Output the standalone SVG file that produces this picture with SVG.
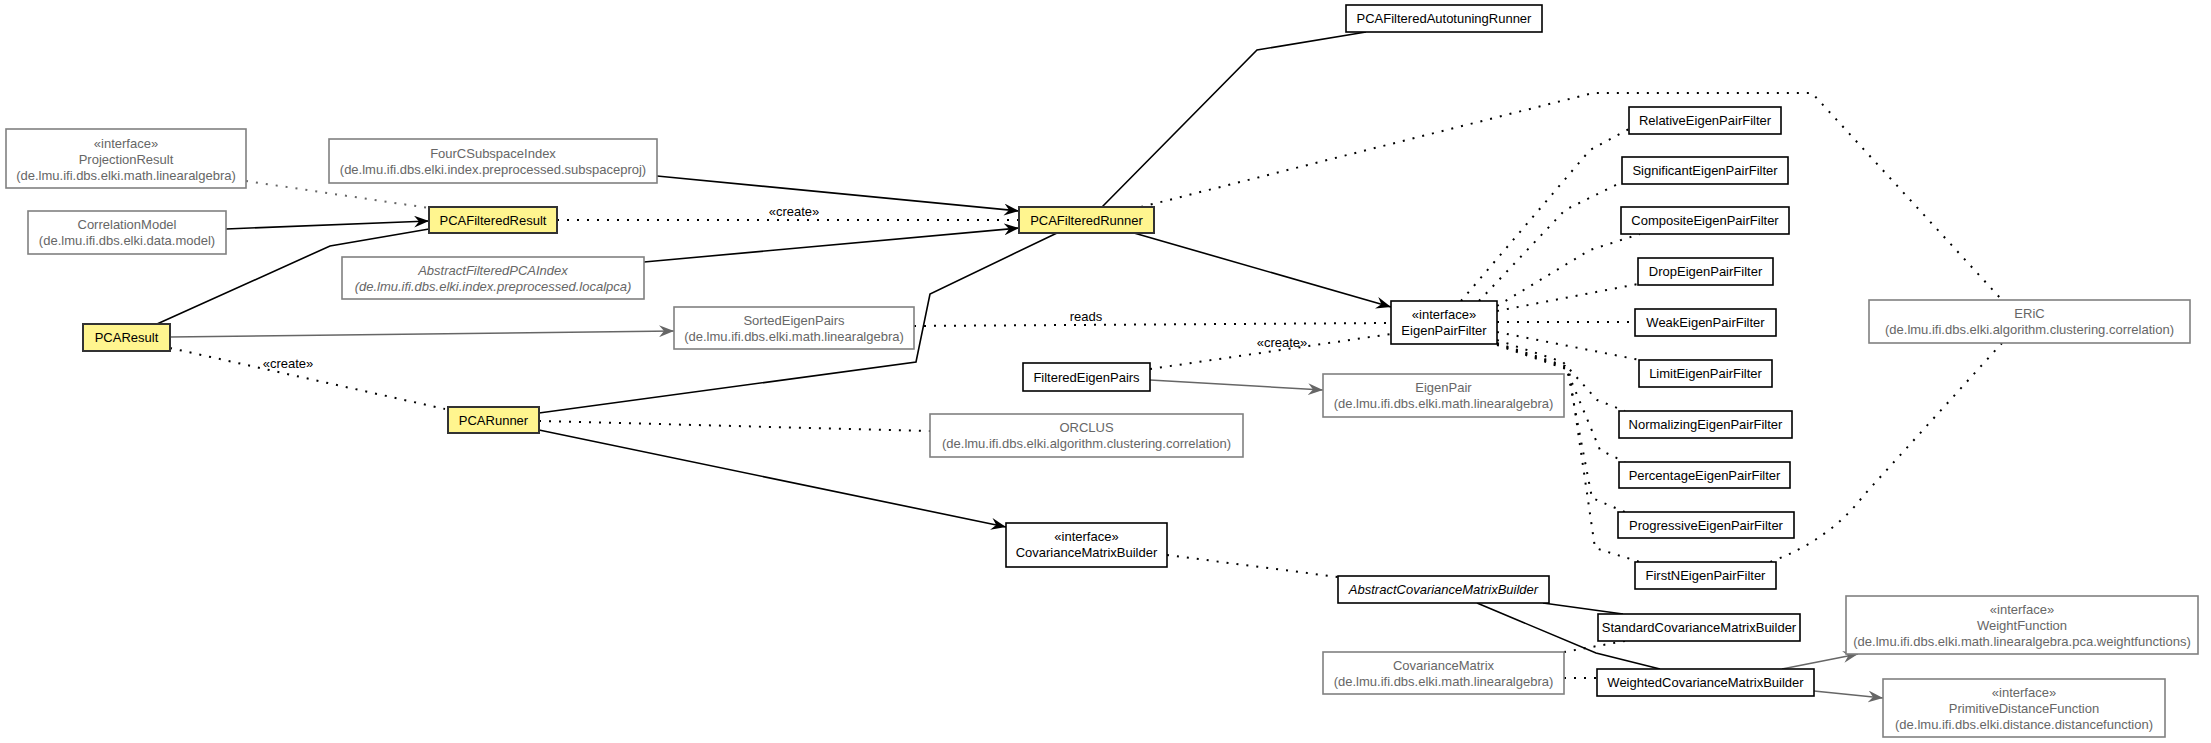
<svg xmlns="http://www.w3.org/2000/svg" width="2211" height="743" viewBox="0 0 2211 743">
<style>
text{font-family:"Liberation Sans",Arial,sans-serif;font-size:13px;text-anchor:middle}
.y rect{fill:#fff58f;stroke:#333;stroke-width:2}
.b rect{fill:#fff;stroke:#000;stroke-width:1.6}
.g rect{fill:#fff;stroke:#808080;stroke-width:1.6}
.g text{fill:#666}
.i{font-style:italic}
.s{fill:none;stroke:#000;stroke-width:1.6}
.sg{fill:none;stroke:#666;stroke-width:1.4}
.d{fill:none;stroke:#000;stroke-width:2;stroke-dasharray:2 8}
.dg{fill:none;stroke:#666;stroke-width:2;stroke-dasharray:2 8}
.lbl{fill:#000}
</style>
<defs>
<marker id="a" markerUnits="userSpaceOnUse" markerWidth="16" markerHeight="12" refX="15" refY="6" orient="auto"><path d="M0,0 L15,6 L0,12 L5,6 Z" fill="#000"/></marker>
<marker id="ag" markerUnits="userSpaceOnUse" markerWidth="16" markerHeight="12" refX="15" refY="6" orient="auto"><path d="M0,0 L15,6 L0,12 L5,6 Z" fill="#666"/></marker>
</defs>
<rect width="2211" height="743" fill="#fff"/>
<g id="connectors">
<path class="dg" d="M246,181 L429,208"/>
<path class="s" d="M226,229 L429,221" marker-end="url(#a)"/>
<path class="s" d="M157,324 L330,246 L429,229"/>
<path class="s" d="M657,176 L1019,211" marker-end="url(#a)"/>
<path class="d" d="M557,220 L1019,220"/>
<text class="lbl" x="794" y="216">«create»</text>
<path class="s" d="M644,262 L1019,228" marker-end="url(#a)"/>
<path class="s" d="M539,413 L916,362 L930,294 L1057,233"/>
<path class="sg" d="M170,337 L674,331" marker-end="url(#ag)"/>
<path class="d" d="M170,348 L445,409"/>
<text class="lbl" x="288" y="368">«create»</text>
<path class="d" d="M539,421 L930,431"/>
<path class="s" d="M539,430 L1006,527" marker-end="url(#a)"/>
<path class="s" d="M1134,233 L1391,307" marker-end="url(#a)"/>
<path class="d" d="M914,326 L1391,323"/>
<text class="lbl" x="1086" y="321">reads</text>
<path class="d" d="M1150,369 L1391,334"/>
<text class="lbl" x="1282" y="347">«create»</text>
<path class="sg" d="M1150,380 L1323,390" marker-end="url(#ag)"/>
<path class="s" d="M1102,207 L1257,50 L1366,32"/>
<path class="d" d="M1141,207 L1593,93 L1812,93 L2002,300"/>
<path class="d" d="M2002,343 L1864,495 Q1830,540 1770,562"/>
<path class="d" d="M1461,301 L1590,150 L1629,129"/>
<path class="d" d="M1479,301 L1565,210 L1622,182"/>
<path class="d" d="M1497,306 L1590,250 L1640,234"/>
<path class="d" d="M1497,311 L1638,284"/>
<path class="d" d="M1497,322 L1635,322"/>
<path class="d" d="M1497,332 L1640,360"/>
<path class="d" d="M1497,340 L1563,362 L1597,400 L1625,411"/>
<path class="d" d="M1497,343 L1565,366 L1600,450 L1625,462"/>
<path class="d" d="M1497,344 L1567,368 L1592,498 L1625,512"/>
<path class="d" d="M1497,345 L1569,370 L1595,548 L1640,562"/>
<path class="d" d="M1167,555 L1338,577"/>
<path class="s" d="M1543,603 L1623,614"/>
<path class="s" d="M1477,603 L1596,653 L1660,669"/>
<path class="d" d="M1564,678 L1597,678"/>
<path class="d" d="M1564,652 L1625,641"/>
<path class="sg" d="M1782,669 L1858,654" marker-end="url(#ag)"/>
<path class="sg" d="M1814,691 L1883,698" marker-end="url(#ag)"/>
</g>
<g id="PCAFilteredResult" class="y"><rect x="429" y="207" width="128" height="26"/><text x="493" y="224.5">PCAFilteredResult</text></g>
<g id="PCAFilteredRunner" class="y"><rect x="1019" y="207" width="135" height="26"/><text x="1086.5" y="224.5">PCAFilteredRunner</text></g>
<g id="PCAResult" class="y"><rect x="83" y="324" width="87" height="27"/><text x="126.5" y="342">PCAResult</text></g>
<g id="PCARunner" class="y"><rect x="448" y="407" width="91" height="26"/><text x="493.5" y="424.5">PCARunner</text></g>
<g id="PCAFilteredAutotuningRunner" class="b"><rect x="1346" y="5" width="196" height="27"/><text x="1444" y="23">PCAFilteredAutotuningRunner</text></g>
<g id="RelativeEigenPairFilter" class="b"><rect x="1629" y="107" width="152" height="27"/><text x="1705" y="125">RelativeEigenPairFilter</text></g>
<g id="SignificantEigenPairFilter" class="b"><rect x="1622" y="157" width="166" height="27"/><text x="1705" y="175">SignificantEigenPairFilter</text></g>
<g id="CompositeEigenPairFilter" class="b"><rect x="1621" y="207" width="168" height="27"/><text x="1705" y="225">CompositeEigenPairFilter</text></g>
<g id="DropEigenPairFilter" class="b"><rect x="1638" y="258" width="135" height="27"/><text x="1705.5" y="276">DropEigenPairFilter</text></g>
<g id="WeakEigenPairFilter" class="b"><rect x="1635" y="309" width="141" height="27"/><text x="1705.5" y="327">WeakEigenPairFilter</text></g>
<g id="LimitEigenPairFilter" class="b"><rect x="1639" y="360" width="133" height="27"/><text x="1705.5" y="378">LimitEigenPairFilter</text></g>
<g id="NormalizingEigenPairFilter" class="b"><rect x="1619" y="411" width="173" height="27"/><text x="1705.5" y="429">NormalizingEigenPairFilter</text></g>
<g id="PercentageEigenPairFilter" class="b"><rect x="1619" y="462" width="171" height="26"/><text x="1704.5" y="479.5">PercentageEigenPairFilter</text></g>
<g id="ProgressiveEigenPairFilter" class="b"><rect x="1618" y="512" width="176" height="26"/><text x="1706" y="529.5">ProgressiveEigenPairFilter</text></g>
<g id="FirstNEigenPairFilter" class="b"><rect x="1635" y="562" width="141" height="27"/><text x="1705.5" y="580">FirstNEigenPairFilter</text></g>
<g id="EigenPairFilter" class="b"><rect x="1391" y="301" width="106" height="43"/><text x="1444" y="319">«interface»</text><text x="1444" y="335">EigenPairFilter</text></g>
<g id="FilteredEigenPairs" class="b"><rect x="1023" y="363" width="127" height="28"/><text x="1086.5" y="381.5">FilteredEigenPairs</text></g>
<g id="CovarianceMatrixBuilder" class="b"><rect x="1006" y="523" width="161" height="44"/><text x="1086.5" y="541">«interface»</text><text x="1086.5" y="557">CovarianceMatrixBuilder</text></g>
<g id="AbstractCovarianceMatrixBuilder" class="b"><rect x="1338" y="576" width="211" height="27"/><text class="i" x="1443.5" y="594">AbstractCovarianceMatrixBuilder</text></g>
<g id="StandardCovarianceMatrixBuilder" class="b"><rect x="1598" y="614" width="202" height="27"/><text x="1699" y="632">StandardCovarianceMatrixBuilder</text></g>
<g id="WeightedCovarianceMatrixBuilder" class="b"><rect x="1597" y="669" width="217" height="27"/><text x="1705.5" y="687">WeightedCovarianceMatrixBuilder</text></g>
<g id="ProjectionResult" class="g"><rect x="6" y="129" width="240" height="59"/><text x="126" y="148">«interface»</text><text x="126" y="164">ProjectionResult</text><text x="126" y="180">(de.lmu.ifi.dbs.elki.math.linearalgebra)</text></g>
<g id="FourCSubspaceIndex" class="g"><rect x="329" y="139" width="328" height="44"/><text x="493" y="157.5">FourCSubspaceIndex</text><text x="493" y="173.5">(de.lmu.ifi.dbs.elki.index.preprocessed.subspaceproj)</text></g>
<g id="CorrelationModel" class="g"><rect x="28" y="211" width="198" height="43"/><text x="127" y="229">CorrelationModel</text><text x="127" y="245">(de.lmu.ifi.dbs.elki.data.model)</text></g>
<g id="AbstractFilteredPCAIndex" class="g"><rect x="342" y="257" width="302" height="42"/><text class="i" x="493" y="275">AbstractFilteredPCAIndex</text><text class="i" x="493" y="291">(de.lmu.ifi.dbs.elki.index.preprocessed.localpca)</text></g>
<g id="SortedEigenPairs" class="g"><rect x="674" y="307" width="240" height="42"/><text x="794" y="325">SortedEigenPairs</text><text x="794" y="341">(de.lmu.ifi.dbs.elki.math.linearalgebra)</text></g>
<g id="ORCLUS" class="g"><rect x="930" y="414" width="313" height="43"/><text x="1086.5" y="432">ORCLUS</text><text x="1086.5" y="448">(de.lmu.ifi.dbs.elki.algorithm.clustering.correlation)</text></g>
<g id="EigenPair" class="g"><rect x="1323" y="374" width="241" height="43"/><text x="1443.5" y="392">EigenPair</text><text x="1443.5" y="408">(de.lmu.ifi.dbs.elki.math.linearalgebra)</text></g>
<g id="ERiC" class="g"><rect x="1869" y="300" width="321" height="43"/><text x="2029.5" y="318">ERiC</text><text x="2029.5" y="334">(de.lmu.ifi.dbs.elki.algorithm.clustering.correlation)</text></g>
<g id="CovarianceMatrix" class="g"><rect x="1323" y="652" width="241" height="42"/><text x="1443.5" y="670">CovarianceMatrix</text><text x="1443.5" y="686">(de.lmu.ifi.dbs.elki.math.linearalgebra)</text></g>
<g id="WeightFunction" class="g"><rect x="1846" y="596" width="352" height="58"/><text x="2022" y="614">«interface»</text><text x="2022" y="630">WeightFunction</text><text x="2022" y="646">(de.lmu.ifi.dbs.elki.math.linearalgebra.pca.weightfunctions)</text></g>
<g id="PrimitiveDistanceFunction" class="g"><rect x="1883" y="679" width="282" height="58"/><text x="2024" y="697">«interface»</text><text x="2024" y="713">PrimitiveDistanceFunction</text><text x="2024" y="729">(de.lmu.ifi.dbs.elki.distance.distancefunction)</text></g>
</svg>
